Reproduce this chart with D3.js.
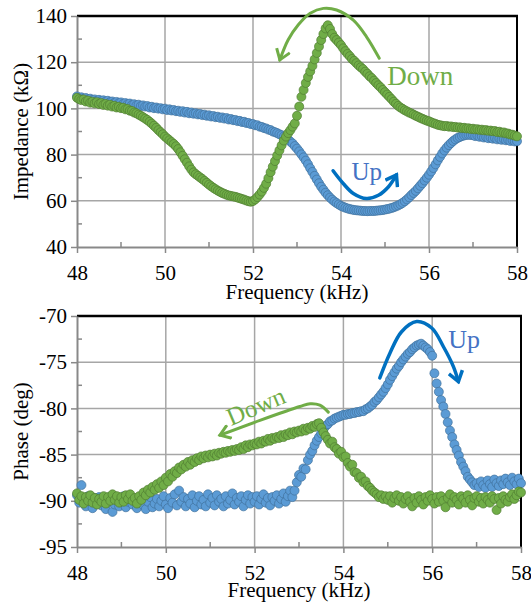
<!DOCTYPE html>
<html>
<head>
<meta charset="utf-8">
<script src="https://cdn.jsdelivr.net/npm/d3@7"></script>
<style>
body { margin: 0; background: #fff; }
</style>
</head>
<body>
<svg width="531" height="605"></svg>
<script>
// sweep frequencies (kHz)
var freq = [
    48.00, 48.05, 48.10, 48.15, 48.20, 48.25, 48.30, 48.35, 48.40, 48.45,
    48.50, 48.55, 48.60, 48.65, 48.70, 48.75, 48.80, 48.85, 48.90, 48.95,
    49.00, 49.05, 49.10, 49.15, 49.20, 49.25, 49.30, 49.35, 49.40, 49.45,
    49.50, 49.55, 49.60, 49.65, 49.70, 49.75, 49.80, 49.85, 49.90, 49.95,
    50.00, 50.05, 50.10, 50.15, 50.20, 50.25, 50.30, 50.35, 50.40, 50.45,
    50.50, 50.55, 50.60, 50.65, 50.70, 50.75, 50.80, 50.85, 50.90, 50.95,
    51.00, 51.05, 51.10, 51.15, 51.20, 51.25, 51.30, 51.35, 51.40, 51.45,
    51.50, 51.55, 51.60, 51.65, 51.70, 51.75, 51.80, 51.85, 51.90, 51.95,
    52.00, 52.05, 52.10, 52.15, 52.20, 52.25, 52.30, 52.35, 52.40, 52.45,
    52.50, 52.55, 52.60, 52.65, 52.70, 52.75, 52.80, 52.85, 52.90, 52.95,
    53.00, 53.05, 53.10, 53.15, 53.20, 53.25, 53.30, 53.35, 53.40, 53.45,
    53.50, 53.55, 53.60, 53.65, 53.70, 53.75, 53.80, 53.85, 53.90, 53.95,
    54.00, 54.05, 54.10, 54.15, 54.20, 54.25, 54.30, 54.35, 54.40, 54.45,
    54.50, 54.55, 54.60, 54.65, 54.70, 54.75, 54.80, 54.85, 54.90, 54.95,
    55.00, 55.05, 55.10, 55.15, 55.20, 55.25, 55.30, 55.35, 55.40, 55.45,
    55.50, 55.55, 55.60, 55.65, 55.70, 55.75, 55.80, 55.85, 55.90, 55.95,
    56.00, 56.05, 56.10, 56.15, 56.20, 56.25, 56.30, 56.35, 56.40, 56.45,
    56.50, 56.55, 56.60, 56.65, 56.70, 56.75, 56.80, 56.85, 56.90, 56.95,
    57.00, 57.05, 57.10, 57.15, 57.20, 57.25, 57.30, 57.35, 57.40, 57.45,
    57.50, 57.55, 57.60, 57.65, 57.70, 57.75, 57.80, 57.85, 57.90, 57.95,
    58.00
]

// impedance (kOhm), up sweep and down sweep
var impUp = [
    105.2, 104.4, 104.8, 104.1, 104.5, 103.8, 104.2, 103.6, 103.9, 103.3,
    103.7, 103.1, 103.5, 102.9, 103.3, 102.7, 103.0, 102.4, 102.8, 102.3,
    102.6, 102.0, 102.3, 101.8, 102.1, 101.5, 101.8, 101.3, 101.6, 101.0,
    101.3, 100.8, 101.0, 100.4, 100.7, 100.1, 100.4, 99.9, 100.1, 99.6,
    99.9, 99.3, 99.6, 99.1, 99.3, 98.8, 99.0, 98.5, 98.8, 98.2,
    98.5, 97.9, 98.2, 97.7, 97.9, 97.4, 97.6, 97.1, 97.3, 96.8,
    97.0, 96.5, 96.7, 96.2, 96.4, 95.9, 96.1, 95.6, 95.8, 95.2,
    95.4, 94.9, 95.0, 94.5, 94.6, 94.1, 94.2, 93.7, 93.7, 93.2,
    93.2, 92.7, 92.7, 92.1, 92.0, 91.5, 91.3, 90.8, 90.6, 90.0,
    89.7, 89.3, 88.8, 88.4, 87.8, 87.2, 86.5, 85.6, 84.8, 83.7,
    82.6, 81.4, 80.1, 78.8, 77.4, 75.8, 74.1, 72.5, 70.8, 69.2,
    67.6, 66.1, 64.8, 63.5, 62.4, 61.4, 60.5, 59.7, 59.0, 58.4,
    57.8, 57.4, 57.0, 56.7, 56.4, 56.2, 56.0, 55.9, 55.8, 55.7,
    55.6, 55.6, 55.5, 55.6, 55.6, 55.6, 55.7, 55.8, 55.9, 56.0,
    56.2, 56.4, 56.6, 56.9, 57.2, 57.6, 58.0, 58.5, 59.1, 59.8,
    60.6, 61.5, 62.5, 63.4, 64.3, 65.4, 66.5, 67.6, 68.8, 70.0,
    71.3, 72.7, 74.2, 75.8, 77.5, 79.0, 80.5, 81.8, 83.0, 84.1,
    85.0, 85.9, 86.6, 87.2, 87.6, 88.0, 88.3, 88.5, 88.6, 88.5,
    88.4, 88.0, 88.2, 87.7, 87.9, 87.4, 87.6, 87.1, 87.4, 86.9,
    87.1, 86.6, 86.9, 86.4, 86.7, 86.2, 86.4, 85.9, 86.2, 85.7,
    85.8
]
var impDown = [
    104.6, 104.0, 103.6, 103.9, 103.0, 103.4, 102.5, 102.9, 102.2, 102.7,
    101.9, 102.3, 101.5, 101.9, 101.2, 101.6, 100.8, 101.1, 100.4, 100.7,
    100.1, 100.3, 99.6, 99.7, 99.0, 98.9, 98.2, 97.9, 97.3, 96.8,
    96.2, 95.6, 95.0, 94.2, 93.4, 92.5, 91.6, 90.6, 89.7, 88.8,
    87.8, 87.0, 86.2, 85.4, 84.6, 83.6, 82.4, 81.0, 79.5, 78.0,
    76.5, 74.9, 73.5, 72.3, 71.5, 70.8, 70.1, 69.4, 68.6, 67.8,
    67.0, 66.3, 65.6, 65.0, 64.4, 63.9, 63.4, 63.0, 62.6, 62.3,
    62.1, 61.9, 61.7, 61.4, 61.1, 60.8, 60.5, 60.1, 59.8, 59.6,
    59.9, 60.6, 61.6, 62.7, 64.0, 65.6, 67.4, 69.8, 72.4, 74.8,
    77.2, 79.6, 81.8, 84.0, 86.1, 87.8, 89.3, 90.6, 92.1, 93.5,
    96.8, 100.8, 105.0, 108.0, 111.0, 113.6, 116.0, 118.4, 121.2, 124.0,
    126.8, 129.6, 132.2, 134.6, 136.0, 134.4, 132.2, 130.6, 129.6, 128.5,
    127.4, 126.0, 124.8, 123.6, 122.6, 121.4, 120.6, 119.6, 118.6, 117.8,
    117.0, 115.9, 115.0, 113.9, 113.1, 112.0, 111.0, 110.0, 109.1, 108.0,
    107.0, 106.0, 105.0, 104.0, 102.9, 102.0, 101.1, 100.4, 99.8, 99.2,
    98.7, 98.2, 97.8, 97.3, 96.8, 96.4, 95.9, 95.5, 95.1, 94.7,
    94.4, 94.0, 93.6, 93.3, 92.9, 92.7, 92.5, 92.3, 92.4, 92.1,
    92.2, 91.9, 92.0, 91.7, 91.8, 91.5, 91.6, 91.3, 91.4, 91.1,
    91.2, 90.9, 91.0, 90.7, 90.8, 90.5, 90.6, 90.3, 90.4, 90.1,
    90.2, 89.8, 89.9, 89.5, 89.6, 89.2, 89.1, 88.7, 88.6, 88.2,
    87.9
]

// phase (deg), up sweep and down sweep
var phaseUp = [
    -89.4, -90.2, -88.3, -89.8, -90.6, -89.5, -90.1, -90.8, -89.7, -90.3,
    -89.6, -90.5, -89.9, -90.9, -90.2, -89.6, -91.2, -90.4, -89.8, -90.6,
    -90.0, -89.5, -90.7, -90.1, -89.6, -90.4, -89.9, -90.8, -90.2, -89.7,
    -90.5, -90.9, -90.1, -89.6, -90.7, -90.3, -89.8, -90.6, -90.0, -89.5,
    -90.4, -90.8, -89.7, -90.2, -89.3, -90.5, -88.9, -90.1, -89.6, -90.6,
    -89.8, -90.3, -89.4, -90.7, -90.0, -89.5, -90.4, -89.9, -90.6, -89.3,
    -90.2, -89.7, -90.5, -89.4, -90.1, -89.8, -90.6, -89.5, -90.3, -89.9,
    -89.2, -90.4, -89.7, -90.1, -89.5, -90.6, -89.9, -89.4, -90.3, -89.6,
    -90.1, -89.5, -90.4, -89.8, -89.3, -90.2, -89.7, -90.5, -89.6, -90.0,
    -89.4, -90.3, -89.8, -89.2, -90.1, -89.5, -88.9, -89.6, -88.9, -88.0,
    -87.2, -87.4, -86.5, -86.6, -85.6, -85.0, -84.6, -84.0, -83.5, -83.1,
    -82.7, -82.3, -81.9, -81.7, -81.4, -81.3, -81.1, -81.0, -80.9, -80.8,
    -80.7, -80.7, -80.6, -80.6, -80.5, -80.5, -80.4, -80.4, -80.3, -80.3,
    -80.1, -80.0, -79.8, -79.6, -79.3, -79.1, -78.8, -78.5, -78.2, -77.8,
    -77.4, -76.9, -76.5, -76.1, -75.7, -75.4, -75.0, -74.7, -74.4, -74.1,
    -73.9, -73.6, -73.4, -73.2, -73.1, -73.0, -73.2, -73.4, -73.6, -73.9,
    -74.3, -76.2, -77.3, -78.2, -79.1, -79.8, -80.6, -81.5, -82.4, -83.1,
    -83.9, -84.5, -85.1, -85.8, -86.3, -86.8, -87.4, -87.7, -88.0, -88.3,
    -88.1, -88.5, -87.9, -88.3, -88.6, -87.8, -88.2, -88.5, -87.7, -88.1,
    -88.4, -87.8, -88.2, -87.6, -88.0, -88.3, -87.5, -87.9, -88.2, -87.6,
    -88.1
]
var phaseDown = [
    -89.2, -89.9, -89.5, -90.3, -89.6, -90.0, -89.4, -90.2, -89.7, -90.4,
    -89.8, -90.1, -89.5, -90.3, -89.6, -90.0, -89.3, -89.9, -89.5, -90.2,
    -89.6, -90.1, -89.4, -89.8, -89.3, -90.0, -89.7, -90.3, -89.5, -89.9,
    -89.1, -89.4, -88.8, -89.1, -88.5, -88.8, -88.2, -88.6, -87.9, -88.3,
    -87.5, -87.9, -87.1, -87.4, -86.8, -87.0, -86.4, -86.6, -86.1, -86.3,
    -85.8, -86.1, -85.6, -85.8, -85.4, -85.6, -85.2, -85.4, -85.1, -85.3,
    -85.0, -85.2, -84.9, -85.1, -84.8, -84.9, -84.7, -84.8, -84.6, -84.7,
    -84.5, -84.6, -84.4, -84.5, -84.2, -84.4, -84.0, -84.2, -83.9, -84.0,
    -83.8, -83.9, -83.6, -83.8, -83.5, -83.6, -83.3, -83.5, -83.2, -83.3,
    -83.1, -83.2, -82.9, -83.1, -82.8, -82.9, -82.6, -82.8, -82.5, -82.6,
    -82.4, -82.5, -82.2, -82.4, -82.1, -82.2, -81.9, -82.0, -81.7, -81.6,
    -82.1, -82.6, -83.0, -83.4, -83.8, -83.6, -84.2, -84.4, -84.9, -84.7,
    -85.3, -85.2, -85.9, -86.3, -86.1, -86.9, -87.0, -87.5, -87.4, -88.0,
    -87.9, -88.4, -88.6, -88.9, -89.1, -89.3, -89.6, -89.4, -89.8, -89.5,
    -89.9, -89.5, -90.2, -89.7, -89.4, -90.0, -89.6, -90.3, -89.8, -89.5,
    -90.1, -90.6, -89.7, -90.2, -89.5, -89.9, -90.4, -89.6, -90.0, -89.4,
    -89.8, -90.3, -89.6, -90.1, -89.5, -90.0, -90.7, -89.7, -89.3, -90.2,
    -89.6, -89.9, -90.4, -89.5, -89.8, -90.2, -89.4, -89.9, -90.5, -89.7,
    -89.5, -90.1, -89.7, -90.3, -89.6, -89.9, -90.2, -89.5, -89.8, -91.0,
    -89.7, -90.3, -89.5, -89.9, -90.1, -89.6, -89.3, -89.8, -89.4, -89.0,
    -89.1
]

var freqTicks = [48, 50, 52, 54, 56, 58]
var freqMinor = [49, 51, 53, 55, 57]
var impTicks = [40, 60, 80, 100, 120, 140]
var impMinor = [50, 70, 90, 110, 130]
var phaseTicks = [-95, -90, -85, -80, -75, -70]
var phaseMinor = [-92.5, -87.5, -82.5, -77.5, -72.5]

// annotation curves, in data units [kHz, value]
var impDownArc = [[54.87, 121.7], [54.58, 131.0], [54.28, 138.2], [53.9, 142.6], [53.6, 143.3], [53.3, 141.2], [53.03, 136.2], [52.8, 129.7], [52.61, 121.0]]
var impUpArc = [[53.82, 73.0], [54.05, 67.5], [54.28, 63.2], [54.58, 61.0], [54.85, 62.4], [55.08, 66.1], [55.26, 71.2]]
var phaseUpArc = [[54.82, -76.7], [55.05, -74.0], [55.31, -71.7], [55.65, -70.6], [55.99, -71.3], [56.25, -73.3], [56.48, -75.5], [56.59, -77.1]]
var phaseDownArc = [[53.66, -80.4], [53.47, -79.65], [53.25, -79.5], [53.02, -79.8], [52.12, -81.3], [51.22, -82.9]]

var SERIF = "'Liberation Serif', 'Times New Roman', 'DejaVu Serif', serif"
var BLUE = '#5b9bd5', BLUE_EDGE = '#41719c'
var GREEN = '#70ad47', GREEN_EDGE = '#507e32'
var ARROW_BLUE = '#0070c0', TEXT_BLUE = '#4472c4'
var GRID = '#a6a6a6', AXIS = '#898989'

var svg = d3.select('svg')
svg.append('rect').attr('width', 531).attr('height', 605).attr('fill', '#fff')

var defs = svg.append('defs')
function addArrowHead(id, color, w) {
    defs.append('marker')
        .attr('id', id)
        .attr('viewBox', '0 0 16 16')
        .attr('refX', 13).attr('refY', 8)
        .attr('markerWidth', 16).attr('markerHeight', 16)
        .attr('markerUnits', 'userSpaceOnUse')
        .attr('orient', 'auto')
        .append('path')
        .attr('d', 'M3,1 L13,8 L3,15')
        .attr('fill', 'none')
        .attr('stroke', color)
        .attr('stroke-width', w)
}
addArrowHead('headGreen', GREEN, 3)
addArrowHead('headBlue', ARROW_BLUE, 3.5)

function plain(d) { return String(d) }   // hyphen minus, like the original

function drawPanel(p) {
    var g = svg.append('g')
    var x = d3.scaleLinear().domain([48, 58]).range([p.left, p.right])
    var y = d3.scaleLinear().domain([p.yTicks[0], p.yTicks[p.yTicks.length - 1]]).range([p.bottom, p.top])

    // grid
    g.selectAll('.vgrid').data(freqTicks.slice(1, -1)).enter()
        .append('line')
        .attr('x1', function(d){ return x(d) }).attr('x2', function(d){ return x(d) })
        .attr('y1', p.top).attr('y2', p.bottom)
        .attr('stroke', GRID).attr('stroke-width', 1.5)
    g.selectAll('.hgrid').data(p.yTicks.slice(1, -1)).enter()
        .append('line')
        .attr('x1', p.left).attr('x2', p.right)
        .attr('y1', function(d){ return y(d) }).attr('y2', function(d){ return y(d) })
        .attr('stroke', GRID).attr('stroke-width', 1.5)

    // black frame on top and right
    g.append('line').attr('x1', p.left).attr('x2', p.right + 1)
        .attr('y1', p.top).attr('y2', p.top)
        .attr('stroke', '#000').attr('stroke-width', 2.5)
    g.append('line').attr('x1', p.right).attr('x2', p.right)
        .attr('y1', p.top).attr('y2', p.bottom)
        .attr('stroke', '#000').attr('stroke-width', 2)

    // axes
    var xAxis = g.append('g')
        .attr('transform', 'translate(0,' + p.bottom + ')')
        .call(d3.axisBottom(x).tickValues(freqTicks).tickFormat(plain).tickSize(6).tickSizeOuter(0).tickPadding(12))
    var yAxis = g.append('g')
        .attr('transform', 'translate(' + p.left + ',0)')
        .call(d3.axisLeft(y).tickValues(p.yTicks).tickFormat(plain).tickSize(6).tickSizeOuter(0).tickPadding(4))
    ;[xAxis, yAxis].forEach(function(a){
        a.attr('color', AXIS).attr('font-size', 21).attr('font-family', SERIF)
        a.select('.domain').attr('stroke-width', 2)
        a.selectAll('.tick line').attr('stroke-width', 1.5)
        a.selectAll('.tick text').attr('fill', '#000').style('font-family', SERIF)
    })

    // minor ticks, inside
    g.selectAll('.xminor').data(freqMinor).enter()
        .append('line')
        .attr('x1', function(d){ return x(d) }).attr('x2', function(d){ return x(d) })
        .attr('y1', p.bottom).attr('y2', p.bottom - 5)
        .attr('stroke', AXIS).attr('stroke-width', 1.5)
    g.selectAll('.yminor').data(p.yMinor).enter()
        .append('line')
        .attr('x1', p.left).attr('x2', p.left + 5)
        .attr('y1', function(d){ return y(d) }).attr('y2', function(d){ return y(d) })
        .attr('stroke', AXIS).attr('stroke-width', 1.5)

    // titles
    g.append('text')
        .attr('x', (p.left + p.right) / 2).attr('y', p.bottom + p.xTitleGap)
        .attr('text-anchor', 'middle').attr('font-size', 21)
        .style('font-family', SERIF)
        .text('Frequency (kHz)')
    g.append('text')
        .attr('transform', 'translate(28,' + (p.top + p.bottom) / 2 + ') rotate(-90)')
        .attr('text-anchor', 'middle').attr('font-size', 21)
        .style('font-family', SERIF)
        .text(p.yTitle)

    // data markers
    var series = [
        {values: p.up, fill: BLUE, edge: BLUE_EDGE},
        {values: p.down, fill: GREEN, edge: GREEN_EDGE}
    ]
    series.forEach(function(s){
        g.append('g').selectAll('circle')
            .data(freq)
            .enter()
            .append('circle')
            .attr('cx', function(d){ return x(d) })
            .attr('cy', function(d, i){ return y(s.values[i]) })
            .attr('r', 4.5)
            .attr('fill', s.fill)
            .attr('stroke', s.edge)
            .attr('stroke-width', 0.7)
    })

    // annotations
    var line = d3.line()
        .x(function(d){ return x(d[0]) })
        .y(function(d){ return y(d[1]) })
        .curve(d3.curveCatmullRom)
    p.notes.forEach(function(n){
        g.append('path')
            .attr('d', line(n.arc))
            .attr('fill', 'none')
            .attr('stroke', n.stroke)
            .attr('stroke-width', n.width)
            .attr('stroke-linecap', 'round')
            .attr('marker-end', 'url(#' + n.head + ')')
        g.append('text')
            .attr('transform', 'translate(' + x(n.at[0]) + ',' + y(n.at[1]) + ') rotate(' + (n.rotate || 0) + ')')
            .attr('font-size', n.size)
            .style('font-family', SERIF)
            .attr('fill', n.color)
            .text(n.label)
    })
}

drawPanel({
    left: 77, right: 517, top: 16, bottom: 247,
    yTicks: impTicks, yMinor: impMinor,
    yTitle: 'Impedance (k\u03a9)', xTitleGap: 52,
    up: impUp, down: impDown,
    notes: [
        {arc: impDownArc, stroke: GREEN, width: 3, head: 'headGreen', label: 'Down', at: [55.05, 110.1], size: 27, color: GREEN},
        {arc: impUpArc, stroke: ARROW_BLUE, width: 3.5, head: 'headBlue', label: 'Up', at: [54.24, 69], size: 25, color: TEXT_BLUE}
    ]
})

drawPanel({
    left: 77, right: 521, top: 316, bottom: 547,
    yTicks: phaseTicks, yMinor: phaseMinor,
    yTitle: 'Phase (deg)', xTitleGap: 50,
    up: phaseUp, down: phaseDown,
    notes: [
        {arc: phaseUpArc, stroke: ARROW_BLUE, width: 3.5, head: 'headBlue', label: 'Up', at: [56.36, -73.5], size: 26, color: TEXT_BLUE},
        {arc: phaseDownArc, stroke: GREEN, width: 3, head: 'headGreen', label: 'Down', at: [51.47, -81.9], size: 25, color: GREEN, rotate: -23}
    ]
})
</script>
</body>
</html>
